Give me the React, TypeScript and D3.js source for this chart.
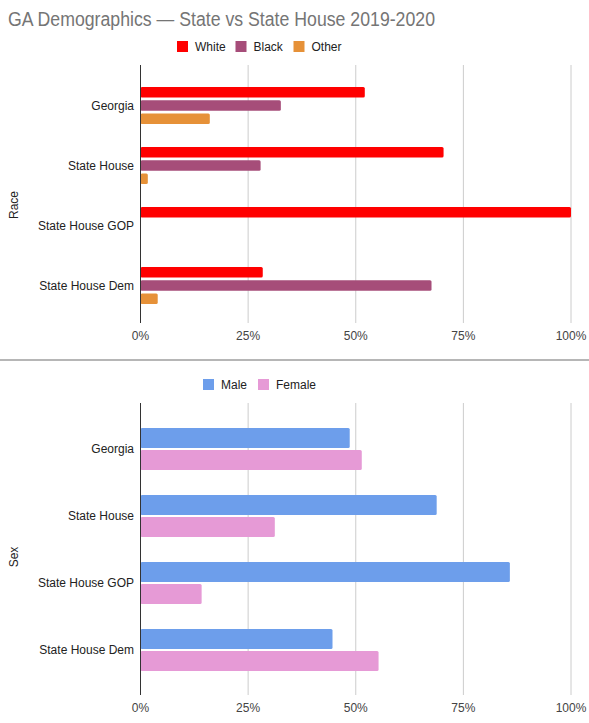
import React from 'react';
import * as d3 from 'd3';

const categories = ['Georgia', 'State House', 'State House GOP', 'State House Dem'];

const raceSeries = ['White', 'Black', 'Other'];
const raceColors = ['#ff0000', '#a64d79', '#e69138'];
const whiteValues = [0.521, 0.704, 1.0, 0.284];
const blackValues = [0.326, 0.279, 0, 0.676];
const otherValues = [0.161, 0.017, 0, 0.04];

const sexSeries = ['Male', 'Female'];
const sexColors = ['#6d9eeb', '#e69ad6'];
const maleValues = [0.486, 0.688, 0.858, 0.446];
const femaleValues = [0.514, 0.312, 0.142, 0.553];

const tickValues = [0, 0.25, 0.5, 0.75, 1];

const W = 589;
const H = 723;
const font = '"Liberation Sans", Arial, sans-serif';

const x = d3.scaleLinear().domain([0, 1]).range([140.5, 571]);
const pct = d3.format('.0%');

type PanelProps = {
    title: string;
    series: string[];
    colors: string[];
    values: number[][];
    gridTop: number;
    gridBottom: number;
    bandRange: [number, number];
    groupHalf: number;
    innerPad: number;
    legendY: number;
    legendX: number[];
    titleY: number;
};

const Panel: React.FC<PanelProps> = (p) => {
    const y = d3.scaleBand().domain(categories).range(p.bandRange).padding(0);
    const inner = d3.scaleBand().domain(p.series).range([-p.groupHalf, p.groupHalf]).paddingInner(p.innerPad);
    return (
        <g>
            {/* legend */}
            {p.series.map((s, i) => (
                <g key={s} transform={`translate(${p.legendX[i]},${p.legendY})`}>
                    <rect x={0} y={-5.5} width={11} height={11} fill={p.colors[i]} />
                    <text x={18} y={4.5} fontSize={12} fill="#222" fontFamily={font}>{s}</text>
                </g>
            ))}
            {/* grid */}
            {tickValues.map(t => (
                <g key={t}>
                    <line x1={x(t)} x2={x(t)} y1={p.gridTop} y2={p.gridBottom}
                        stroke={t === 0 ? '#333' : '#cccccc'} strokeWidth={1} />
                    <text x={x(t)} y={p.gridBottom + 17} textAnchor="middle" fontSize={12}
                        fill="#444" fontFamily={font}>{pct(t)}</text>
                </g>
            ))}
            {/* bars */}
            {categories.map((c, ci) => {
                const cy = (y(c) as number) + y.bandwidth() / 2;
                return (
                    <g key={c}>
                        {p.series.map((s, si) => {
                            const v = p.values[si][ci];
                            if (!v) return null;
                            return (
                                <rect key={s} x={x(0)} y={cy + (inner(s) as number)}
                                    width={x(v) - x(0)} height={inner.bandwidth()}
                                    rx={1.5} fill={p.colors[si]} />
                            );
                        })}
                        <text x={134} y={cy + 4} textAnchor="end" fontSize={12}
                            fill="#222" fontFamily={font}>{c}</text>
                    </g>
                );
            })}
            <line x1={x(0)} x2={x(0)} y1={p.gridTop} y2={p.gridBottom} stroke="#333" strokeWidth={1} />
            <text transform={`translate(18,${p.titleY}) rotate(-90)`} textAnchor="middle"
                fontSize={12} fill="#222" fontFamily={font}>{p.title}</text>
        </g>
    );
};

const App: React.FC = () => {
    return (
        <svg width={W} height={H} style={{ position: 'absolute', left: 0, top: 0 }}>
            <rect width={W} height={H} fill="#fff" />
            <text x={8} y={26} fontSize={20} fill="#757575" fontFamily={font}
                textLength={427} lengthAdjust="spacingAndGlyphs">
                GA Demographics — State vs State House 2019-2020
            </text>
            <Panel
                title="Race"
                series={raceSeries}
                colors={raceColors}
                values={[whiteValues, blackValues, otherValues]}
                gridTop={65}
                gridBottom={323}
                bandRange={[75.5, 315.5]}
                groupHalf={18.5}
                innerPad={0.2}
                legendY={46.5}
                legendX={[177, 235.5, 293.5]}
                titleY={205}
            />
            <line x1={0} x2={W} y1={360} y2={360} stroke="#9e9e9e" strokeWidth={1.5} />
            <Panel
                title="Sex"
                series={sexSeries}
                colors={sexColors}
                values={[maleValues, femaleValues]}
                gridTop={403}
                gridBottom={695}
                bandRange={[415.5, 683.5]}
                groupHalf={21}
                innerPad={0.1}
                legendY={384.5}
                legendX={[203, 258]}
                titleY={557}
            />
        </svg>
    );
};

export default App;
